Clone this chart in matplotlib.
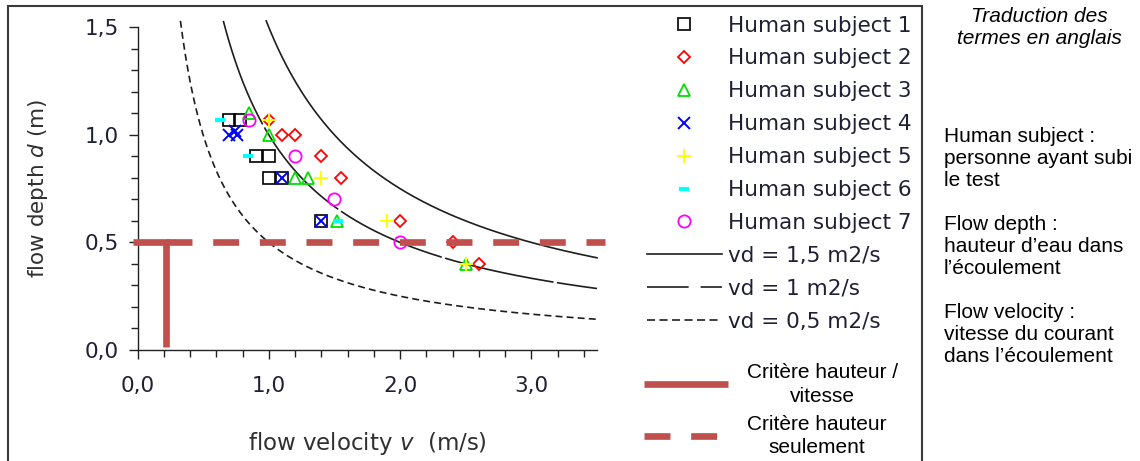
import numpy as np
import matplotlib
matplotlib.use('Agg')
import matplotlib.pyplot as plt
from matplotlib.lines import Line2D
from matplotlib.patches import Rectangle
from matplotlib.ticker import FixedLocator, MultipleLocator
from matplotlib.font_manager import FontProperties

plt.rcParams['lines.scale_dashes'] = False

# ---------------- data ----------------
subject_labels = ['Human subject 1', 'Human subject 2', 'Human subject 3',
                  'Human subject 4', 'Human subject 5', 'Human subject 6',
                  'Human subject 7']

s1_v = [0.70, 0.78, 0.90, 1.00, 1.00, 1.10, 1.40]
s1_d = [1.07, 1.07, 0.90, 0.90, 0.80, 0.80, 0.60]

s2_v = [1.00, 1.10, 1.20, 1.40, 1.55, 2.00, 2.40, 2.60]
s2_d = [1.07, 1.00, 1.00, 0.90, 0.80, 0.60, 0.50, 0.40]

s3_v = [0.85, 1.00, 1.20, 1.30, 1.52, 2.50]
s3_d = [1.10, 1.00, 0.80, 0.80, 0.60, 0.40]

s4_v = [0.70, 0.74, 0.76, 1.10, 1.40]
s4_d = [1.00, 1.02, 1.00, 0.80, 0.60]

s5_v = [1.00, 1.40, 1.90, 2.50]
s5_d = [1.07, 0.80, 0.60, 0.40]

s6_v = [0.63, 0.84, 1.53]
s6_d = [1.07, 0.90, 0.60]

s7_v = [0.85, 1.20, 1.50, 2.00]
s7_d = [1.07, 0.90, 0.70, 0.50]

vd_values = [1.5, 1.0, 0.5]
vd_labels = ['vd = 1,5 m2/s', 'vd = 1 m2/s', 'vd = 0,5 m2/s']

crit_v = 0.22      # velocity criterion
crit_d = 0.5       # depth criterion
crit_labels = ['Crit\u00e8re hauteur /\nvitesse', 'Crit\u00e8re hauteur\nseulement']

x_ticks = [0, 1, 2, 3]
x_tick_labels = ['0,0', '1,0', '2,0', '3,0']
y_ticks = [0.0, 0.5, 1.0, 1.5]
y_tick_labels = ['0,0', '0,5', '1,0', '1,5']

translation_title = 'Traduction des\ntermes en anglais'
translation_body = ('Human subject :\npersonne ayant subi\nle test\n\n'
                    'Flow depth :\nhauteur d\u2019eau dans\nl\u2019\u00e9coulement\n\n'
                    'Flow velocity :\nvitesse du courant\ndans l\u2019\u00e9coulement')

# ---------------- styles ----------------
W, H = 1140, 461
RED = '#C0504D'
TXT = '#202035'
CURVE = '#1e1e1e'
styles = [
    dict(marker='s', mec='black', ms=8.8, mew=1.2),
    dict(marker='D', mec='#FF0000', ms=6.5, mew=1.3),
    dict(marker='^', mec='#00E000', ms=9.3, mew=1.3),
    dict(marker='x', mec='#0000FF', ms=8.8, mew=1.4),
    dict(marker='+', mec='#FFFF00', ms=10, mew=1.4),
    dict(marker='_', mec='#00FFFF', ms=7, mew=3),
    dict(marker='o', mec='#FF00FF', ms=8.8, mew=1.3),
]
series = [(s1_v, s1_d), (s2_v, s2_d), (s3_v, s3_d), (s4_v, s4_d),
          (s5_v, s5_d), (s6_v, s6_d), (s7_v, s7_d)]
curve_styles = [dict(ls='-'), dict(dashes=(80, 2.5)), dict(dashes=(5, 3))]
curve_legend_styles = [dict(ls='-'), dict(dashes=(30, 8.6)), dict(dashes=(5.8, 3.2))]

fig = plt.figure(figsize=(W / 100, H / 100), dpi=100)
ax = fig.add_axes([137.5 / W, (H - 350) / H, (597 - 137.5) / W, (350 - 27.3) / H])

# curves vd = const
for c, st in zip(vd_values, curve_styles):
    v = np.linspace(c / 1.53, 3.5, 500)
    ax.plot(v, c / v, color=CURVE, lw=1.2, clip_on=False, zorder=2, **st)

# subjects
for (vv, dd), st in zip(series, styles):
    ax.plot(vv, dd, ls='none', mfc='none', zorder=3, **st)

# criteria
ax.plot([-0.034, crit_v, crit_v], [crit_d, crit_d, 0.012], color=RED, lw=4.8,
        solid_capstyle='butt', solid_joinstyle='miter', clip_on=False, zorder=5)
ax.plot([crit_v, 3.563], [crit_d, crit_d], color=RED, lw=4.8, dashes=(18.7, 14.9),
        dash_capstyle='butt', clip_on=False, zorder=5)

ax.set_xlim(0, 3.5)
ax.set_ylim(0, 1.5)
for s in ['top', 'right']:
    ax.spines[s].set_visible(False)
for s in ['left', 'bottom']:
    ax.spines[s].set_color('#222222')
    ax.spines[s].set_linewidth(1.0)

ax.xaxis.set_major_locator(FixedLocator(x_ticks))
ax.set_xticklabels(x_tick_labels)
ax.yaxis.set_major_locator(FixedLocator(y_ticks))
ax.set_yticklabels(y_tick_labels)
ax.xaxis.set_minor_locator(MultipleLocator(0.2))
ax.yaxis.set_minor_locator(MultipleLocator(0.1))
ax.tick_params(axis='both', which='major', direction='out', length=6.5, width=1.0,
               color='#222222', labelsize=15.5, labelcolor=TXT, labelfontfamily='DejaVu Sans')
ax.tick_params(axis='both', which='minor', direction='out', length=4.8, width=1.0, color='#222222')
ax.tick_params(axis='x', which='major', pad=12)
ax.tick_params(axis='y', which='major', pad=7)

ax.set_xlabel('flow velocity $v$  (m/s)', fontsize=16.5, color='#303030',
              family='DejaVu Sans', labelpad=25)
ax.set_ylabel('flow depth $d$ (m)', fontsize=15.5, color='#303030',
              family='DejaVu Sans', labelpad=25)

# legend 1
handles = []
for st in styles:
    handles.append(Line2D([], [], ls='none', mfc='none', **st))
for st in curve_legend_styles:
    handles.append(Line2D([], [], color=CURVE, lw=1.2, **st))
leg1 = ax.legend(handles, subject_labels + vd_labels, loc='upper left',
                 bbox_to_anchor=(646.5 / W, 1 - 15.5 / H), bbox_transform=fig.transFigure,
                 frameon=False, borderpad=0, borderaxespad=0, handlelength=3.5,
                 handletextpad=0.28, labelspacing=0.6,
                 prop=FontProperties(family='DejaVu Sans', size=15.5), labelcolor=TXT)
ax.add_artist(leg1)

# legend 2 (criteria)
crit_handles = [Line2D([], [], color=RED, lw=4.8, solid_capstyle='butt'),
                Line2D([], [], color=RED, lw=4.8, dashes=(18.7, 14.9), dash_capstyle='butt')]
leg2 = ax.legend(crit_handles, crit_labels, loc='upper left',
                 bbox_to_anchor=(644 / W, 1 - 363 / H), bbox_transform=fig.transFigure,
                 frameon=False, borderpad=0, borderaxespad=0, handlelength=4.05,
                 handletextpad=0.89, labelspacing=0.45,
                 prop=FontProperties(family='Liberation Sans', size=15), labelcolor='black')
for t in leg2.get_texts():
    t.set_multialignment('center')
    t.set_linespacing(1.3)

# frame rectangle
fig.add_artist(Rectangle((8 / W, -0.05), (921.5 - 8) / W, 1 - 6 / H + 0.05,
                         transform=fig.transFigure, fill=False, lw=1.5, ec='#3a3a3a'))

# translation texts
fig.text(1039 / W, 1 - 27.5 / H, translation_title, ha='center', va='center',
         fontsize=15, family='Liberation Sans', style='italic', linespacing=1.17)
fig.text(944 / W, 1 - 246 / H, translation_body, ha='left', va='center',
         fontsize=15, family='Liberation Sans', linespacing=1.2)

fig.savefig('out.png', dpi=100)
